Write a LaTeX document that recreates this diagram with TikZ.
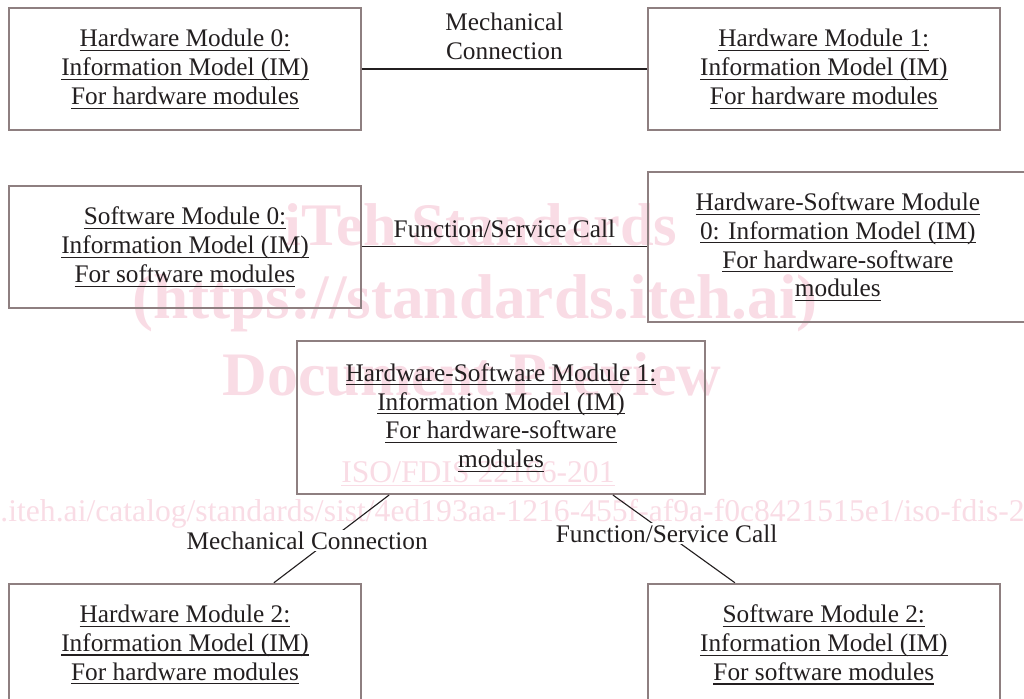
\documentclass[tikz,border=0pt]{standalone}
\usepackage{fontspec}
\setmainfont{Liberation Serif}
\usetikzlibrary{positioning}
\definecolor{BoxEdge}{HTML}{8E7F80}
\definecolor{InkDark}{HTML}{231F20}
\definecolor{MarkPink}{HTML}{F9DCE5}
\newsavebox{\ulbox}
\newcommand{\ulin}[1]{\sbox{\ulbox}{#1}\rlap{\rule[-3pt]{\wd\ulbox}{0.8pt}}\usebox{\ulbox}}
\newcommand{\modtext}[3]{\ulin{#1}\\\ulin{#2}\\\ulin{#3}}

\begin{document}
\begin{tikzpicture}[
        modbox/.style={draw=BoxEdge, line width=1.3pt, text=InkDark, align=center,
            minimum width=8.8cm, minimum height=3.05cm, inner sep=0pt,
            font=\fontsize{18}{20.5}\selectfont},
        wire/.style={draw=InkDark, line width=0.8pt},
        linklabel/.style={text=InkDark, align=center, font=\fontsize{18}{20.5}\selectfont},
        wmtext/.style={text=MarkPink, inner sep=0pt}
    ]
        \clip (0,0) rectangle (25.6,-17.45);

        % watermark behind the diagram
        \node[wmtext, anchor=base, font=\fontsize{43}{43}\selectfont\bfseries] (wm1) at (12.025,-6.125) {iTeh Standards};
        \node[wmtext, anchor=base, font=\fontsize{45}{45}\selectfont\bfseries] (wm2) at (11.875,-7.95) {(https://standards.iteh.ai)};
        \node[wmtext, anchor=base, font=\fontsize{44}{44}\selectfont\bfseries] (wm3) at (11.8,-9.875) {Document Preview};
        \node[wmtext, anchor=base, font=\fontsize{22.5}{24}\selectfont] (wm4) at (11.95,-12.05) {\ulin{ISO/FDIS 22166-201}};
        \node[wmtext, anchor=base west, font=\fontsize{22.5}{24}\selectfont] (wm5) at (-5.18,-13.025) {https://standards.iteh.ai/catalog/standards/sist/4ed193aa-1216-455f-af9a-f0c8421515e1/iso-fdis-22166-201};

        % modules
        \node[modbox] (hw0) at (4.625,-1.725) {\modtext{Hardware Module 0:}{Information Model (IM)}{For hardware modules}};
        \node[modbox, right=7.125cm of hw0] (hw1) {\modtext{Hardware Module 1:}{Information Model (IM)}{For hardware modules}};
        \node[modbox, below=1.35cm of hw0] (sw0) {\modtext{Software Module 0:}{Information Model (IM)}{For software modules}};
        \node[modbox, right=7.125cm of sw0, minimum width=9.5cm, minimum height=3.75cm] (hsw0) {\modtext{Hardware-Software Module}{0: Information Model (IM)}{For hardware-software}\\\ulin{modules}};
        \node[modbox, minimum width=10.2cm, minimum height=3.825cm] (hsw1) at (12.525,-10.44) {\modtext{Hardware-Software Module 1:}{Information Model (IM)}{For hardware-software}\\\ulin{modules}};
        \node[modbox, below=6.85cm of sw0] (hw2) {\modtext{Hardware Module 2:}{Information Model (IM)}{For hardware modules}};
        \node[modbox, right=7.125cm of hw2] (sw2) {\modtext{Software Module 2:}{Information Model (IM)}{For software modules}};

        % connections
        \draw[wire] (hw0) -- node[linklabel, above, yshift=0.1cm] (mc0) {Mechanical\\Connection} (hw1);
        \draw[wire] (sw0) -- node[linklabel, above, yshift=0.1cm] (fs0) {Function/Service Call} (hsw0);
        \draw[wire] ([xshift=2.325cm]hsw1.south west) -- node[linklabel, pos=0.52, fill=white, inner sep=1pt, xshift=-0.55cm] (mc1) {Mechanical Connection} ([xshift=-2.2cm]hw2.north east);
        \draw[wire] ([xshift=-2.325cm]hsw1.south east) -- node[linklabel, pos=0.44, fill=white, inner sep=1pt] (fs1) {Function/Service Call} ([xshift=2.2cm]sw2.north west);
    \end{tikzpicture}
\end{document}
